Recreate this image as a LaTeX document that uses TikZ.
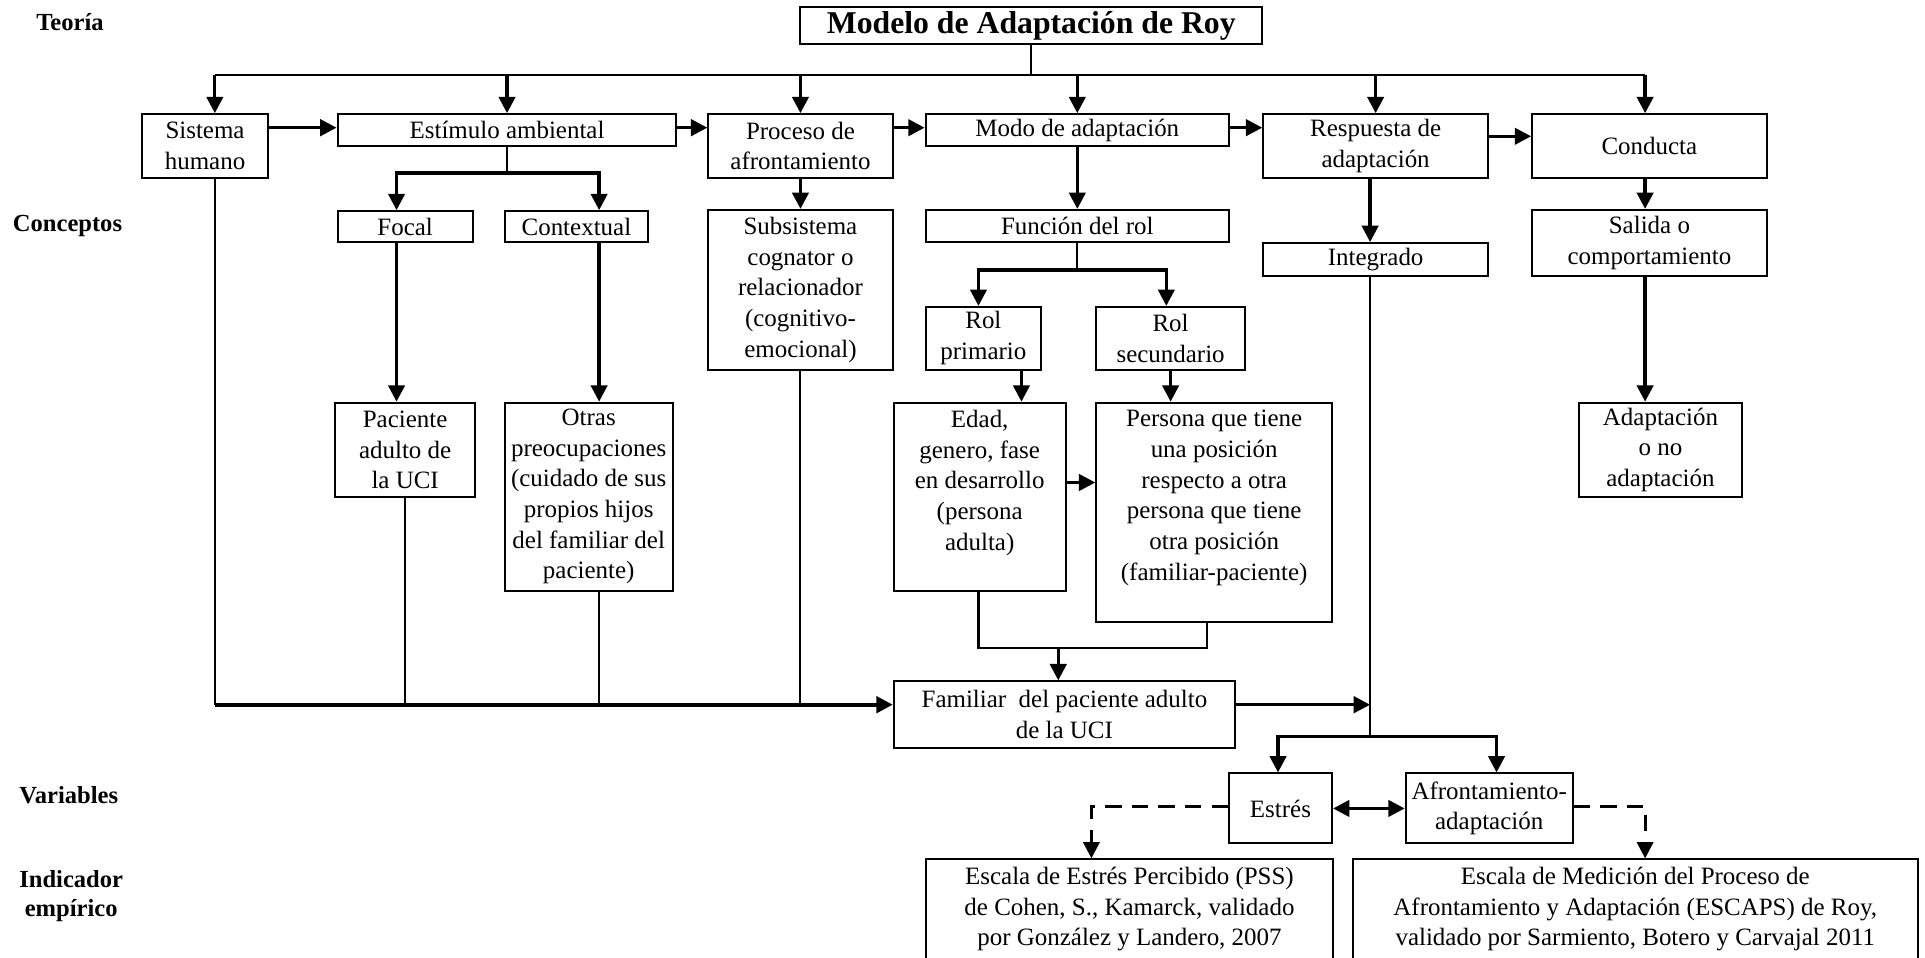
\documentclass[tikz,border=0pt]{standalone}
\usepackage{fontspec}
\setmainfont{Liberation Serif}
\usetikzlibrary{arrows.meta}

\tikzset{
  box/.style={draw, line width=1pt, align=center, inner sep=1pt},
  wh/.style 2 args={minimum width=#1*0.6pt, minimum height=#2*0.6pt},
  toptxt/.style={anchor=north, align=center, inner sep=4pt},
  ln/.style={line width=1pt},
  arr/.style={line width=1.6pt, -{Triangle[length=8pt,width=8pt]}},
  dbl/.style={line width=1.6pt, {Triangle[length=8pt,width=8pt]}-{Triangle[length=8pt,width=8pt]}},
  dsh/.style={arr, line width=1.4pt, dash pattern=on 8pt off 5pt},
  side/.style={font=\fontsize{12}{14}\selectfont\bfseries, align=center},
}

\begin{document}
\begin{tikzpicture}[x=0.6pt,y=-0.6pt,font=\fontsize{12.2}{15}\selectfont]
 \useasboundingbox (0,0) rectangle (1568,780);

 % levels
 \node[side] (teo) at (57,18) {Teoría};
 \node[side] (con) at (55,184) {Conceptos};
 \node[side] (var) at (56,648) {Variables};
 \node[side] (ind) at (58,730) {Indicador\\empírico};

 % title
 \node[box, wh={376}{30}, font=\fontsize{15.5}{18}\selectfont\bfseries] (title) at (840,21) {Modelo de Adaptación de Roy};

 % first row
 \node[box, wh={102}{52}] (sis) at (167,119) {Sistema\\humano};
 \node[box, wh={276}{26}] (est) at (413,106) {Estímulo ambiental};
 \node[box, wh={150}{52}] (pro) at (652,119) {Proceso de\\afrontamiento};
 \node[box, wh={247}{26}] (modo) at (877.5,106) {Modo de adaptación};
 \node[box, wh={183}{52}] (resp) at (1120.5,119) {Respuesta de\\adaptación};
 \node[box, wh={191}{52}] (cond) at (1343.5,119) {Conducta};

 % second row
 \node[box, wh={110}{25}] (focal) at (330,184.5) {Focal};
 \node[box, wh={117}{25}] (ctx) at (469.5,184.5) {Contextual};
 \node[box, wh={150}{130}] (sub) at (652,236) {Subsistema\\cognator o\\relacionador\\(cognitivo-\\emocional)};
 \node[box, wh={247}{26}] (func) at (877.5,184) {Función del rol};
 \node[box, wh={183}{27}] (integ) at (1120.5,211.5) {Integrado};
 \node[box, wh={191}{54}] (sal) at (1343.5,198) {Salida o\\comportamiento};
 \node[box, wh={94}{51}] (rolp) at (801,275.5) {Rol\\primario};
 \node[box, wh={121}{51}] (rols) at (953.5,275.5) {Rol\\secundario};

 % third row
 \node[box, wh={114}{77}] (pac) at (330,366.5) {Paciente\\adulto de\\la UCI};
 \node[box, wh={137}{153}] (otras) at (479.5,404.5) {Otras\\preocupaciones\\(cuidado de sus\\propios hijos\\del familiar del\\paciente)};
 \node[box, wh={140}{153}, label={[toptxt]north:{Edad,\\genero, fase\\en desarrollo\\(persona\\adulta)}}] (edad) at (798,404.5) {};
 \node[box, wh={192}{179}, label={[toptxt]north:{Persona que tiene\\una posición\\respecto a otra\\persona que tiene\\otra posición\\(familiar-paciente)}}] (pers) at (989,417.5) {};
 \node[box, wh={133}{77}] (adap) at (1352.5,366.5) {Adaptación\\o no\\adaptación};
 \node[box, wh={278}{54}] (fam) at (867,582) {Familiar\ \ del paciente adulto\\de la UCI};

 % variables and indicators
 \node[box, wh={84}{57}] (estr) at (1043,658.5) {Estrés};
 \node[box, wh={136}{57}] (afr) at (1213,658.5) {Afrontamiento-\\adaptación};
 \node[box, wh={332}{95}, label={[toptxt]north:{Escala de Estrés Percibido (PSS)\\de Cohen, S., Kamarck, validado\\por González y Landero, 2007}}] (esc1) at (920,747.5) {};
 \node[box, wh={460}{95}, label={[toptxt]north:{Escala de Medición del Proceso de\\Afrontamiento y Adaptación (ESCAPS) de Roy,\\validado por Sarmiento, Botero y Carvajal 2011}}] (esc2) at (1332,747.5) {};

 % junctions
 \coordinate (bl) at (175,61);
 \coordinate (br) at (1340,61);
 \coordinate (r1) at (0,104);
 \coordinate (r2) at (0,111);
 \coordinate (fa) at (323,141);
 \coordinate (ca) at (488,141);
 \coordinate (fl) at (797,220);
 \coordinate (fr) at (950,220);
 \coordinate (rp) at (832,0);
 \coordinate (r3) at (0,393);
 \coordinate (m1) at (797,528);
 \coordinate (m2) at (983,528);
 \coordinate (m0) at (862,528);
 \coordinate (lb) at (175,574);
 \coordinate (il) at (1116,574);
 \coordinate (ib) at (1116,600);
 \coordinate (vl) at (1041,600);
 \coordinate (vr) at (1219,600);
 \coordinate (d1) at (889,657);
 \coordinate (d2) at (1340,657);

 % top bus
 \draw[ln] (title.south) -- (title.south |- bl);
 \draw[ln] (bl) -- (br);
 \draw[arr] (bl) -- (bl |- sis.north);
 \draw[arr] (br) -- (br |- cond.north);
 \foreach \n in {est,pro,modo,resp}
   \draw[arr] (\n.north |- bl) -- (\n.north);
 \foreach \a/\b in {sis/est,est/pro,pro/modo,modo/resp}
   \draw[arr] (\a.east |- r1) -- (\b.west |- r1);
 \draw[arr] (resp.east |- r2) -- (cond.west |- r2);

 % stimuli
 \draw[ln] (est.south) -- (est.south |- fa);
 \draw[dbl] (fa |- focal.north) -- (fa) -- (ca) -- (ca |- ctx.north);
 \draw[arr] (focal.south -| fa) -- (pac.north -| fa);
 \draw[arr] (ctx.south -| ca) -- (otras.north -| ca);
 \draw[arr] (pro.south) -- (sub.north);

 % roles
 \draw[arr] (modo.south) -- (func.north);
 \draw[ln] (func.south) -- (func.south |- fl);
 \draw[dbl] (fl |- rolp.north) -- (fl) -- (fr) -- (fr |- rols.north);
 \draw[arr] (rolp.south -| rp) -- (edad.north -| rp);
 \draw[arr] (rols.south) -- (rols.south |- pers.north);
 \draw[arr] (edad.east |- r3) -- (pers.west |- r3);
 \draw[ln] (edad.south -| m1) -- (m1) -- (m2) -- (pers.south -| m2);
 \draw[arr] (m0) -- (m0 |- fam.north);

 % response and behaviour
 \draw[arr] (resp.south -| ib) -- (integ.north -| ib);
 \draw[arr] (cond.south -| br) -- (sal.north -| br);
 \draw[arr] (sal.south -| br) -- (adap.north -| br);

 % bottom bus
 \draw[ln] (sis.south -| lb) -- (lb);
 \draw[ln] (pac.south) -- (pac.south |- lb);
 \draw[ln] (otras.south -| ca) -- (ca |- lb);
 \draw[ln] (sub.south) -- (sub.south |- lb);
 \draw[arr, line width=1.8pt] (lb) -- (fam.west |- lb);
 \draw[arr] (fam.east |- lb) -- (il);
 \draw[ln] (integ.south -| ib) -- (ib);
 \draw[dbl] (vl |- estr.north) -- (vl) -- (vr) -- (vr |- afr.north);
 \draw[dbl] (estr.east) -- (afr.west);

 % indicators
 \draw[dsh] (estr.west |- d1) -- (d1) -- (d1 |- esc1.north);
 \draw[dsh] (afr.east |- d2) -- (d2) -- (d2 |- esc2.north);
\end{tikzpicture}
\end{document}
